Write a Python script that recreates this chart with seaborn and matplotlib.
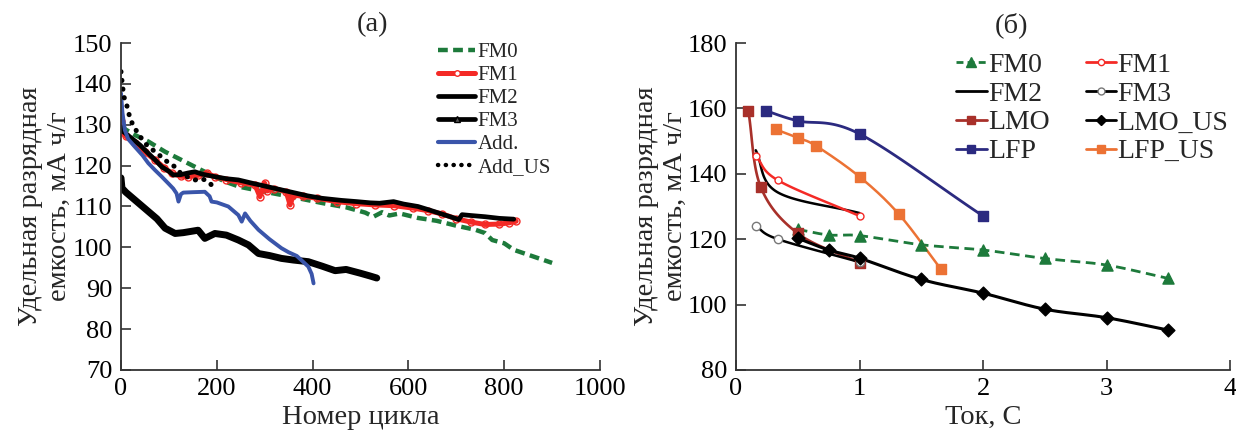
import numpy as np
import matplotlib
matplotlib.use("Agg")
import matplotlib.pyplot as plt
from matplotlib.lines import Line2D
import seaborn as sns

# ---------------- (a) cycling data ----------------
fm0_cyc = [0, 10, 29, 57, 92, 126, 168, 217, 248, 300, 350, 422, 470, 510, 527, 545, 560, 582, 620, 659,
           700, 740, 760, 775, 800, 820, 850, 880, 900]
fm0_cap = [129.8, 128.8, 127.5, 125.9, 123.4, 121.4, 118.9, 116.1, 114.8, 113.6, 112.5, 110.8, 109.8, 108.5,
           107.5, 108.6, 107.8, 108.3, 107.2, 106.5, 105.3, 104.3, 103.5, 101.8, 101.0, 99.4, 98.2, 97.0, 96.2]

fm1_cyc = [0, 2, 10, 29, 50, 71, 90, 106, 125, 140, 160, 180, 196, 220, 250, 280, 290, 300, 305, 320, 345,
           353, 360, 380, 410, 450, 490, 530, 570, 610, 640, 670, 700, 730, 760, 790, 810, 825]
fm1_cap = [131.0, 128.3, 127.2, 125.5, 123.3, 121.4, 119.5, 118.1, 117.4, 117.3, 117.6, 118.1, 117.3, 116.6,
           115.8, 115.2, 112.4, 115.7, 113.8, 114.4, 113.6, 110.4, 112.8, 112.5, 112.0, 111.2, 110.7, 110.4,
           110.2, 109.6, 109.0, 108.2, 107.0, 106.2, 105.6, 105.7, 106.0, 106.4]

fm2_cyc = [0, 5, 22, 40, 57, 72, 85, 100, 109, 125, 140, 154, 170, 196, 220, 245, 270, 300, 330, 360, 390,
           420, 460, 492, 520, 540, 569, 590, 620, 645, 666, 690, 705, 712, 730, 760, 790, 820]
fm2_cap = [129.5, 128.3, 126.7, 125.0, 123.0, 121.3, 119.7, 118.6, 117.7, 117.8, 118.2, 118.5, 117.9, 117.3,
           116.8, 116.5, 115.8, 115.0, 114.2, 113.4, 112.6, 112.0, 111.5, 111.2, 110.9, 110.8, 111.2, 110.6,
           110.0, 109.1, 108.3, 107.4, 106.8, 108.0, 107.8, 107.5, 107.1, 106.9]

fm3_cyc = [0, 2, 10, 25, 50, 75, 92, 113, 130, 161, 175, 196, 220, 245, 266, 287, 310, 335, 360, 391, 420,
           447, 470, 499, 520, 534]
fm3_cap = [117.0, 114.5, 113.5, 112.0, 109.5, 107.0, 104.7, 103.4, 103.6, 104.2, 102.2, 103.4, 103.0, 101.8,
           100.6, 98.5, 98.0, 97.3, 96.9, 96.5, 95.4, 94.3, 94.6, 93.7, 93.0, 92.5]

add_cyc = [0, 3, 8, 15, 29, 45, 57, 71, 85, 100, 109, 116, 120, 125, 130, 150, 175, 185, 189, 200, 224, 245,
           252, 259, 270, 287, 310, 335, 350, 367, 380, 391, 398, 402]
add_cap = [137.7, 133.0, 128.7, 126.5, 124.6, 122.5, 120.6, 118.9, 117.3, 115.5, 114.4, 113.2, 111.2, 113.0,
           113.4, 113.5, 113.6, 112.5, 111.2, 111.0, 110.0, 107.9, 106.3, 108.3, 106.5, 104.3, 102.0, 99.8,
           98.8, 97.9, 96.5, 95.3, 93.5, 91.2]

addus_cyc = [0, 3, 6, 12, 16, 22, 29, 40, 54, 71, 88, 100, 113, 127, 140, 155, 170, 185, 195]
addus_cap = [143.0, 139.7, 136.9, 134.8, 132.8, 130.7, 129.1, 127.1, 125.0, 123.4, 121.8, 120.6, 119.7, 117.8,
             117.2, 116.5, 116.8, 115.8, 114.4]

# ---------------- (б) rate capability ----------------
rate_fm0 = [0.5, 0.75, 1.0, 1.5, 2.0, 2.5, 3.0, 3.5]
cap_fm0 = [123.0, 121.3, 121.1, 118.3, 116.7, 114.1, 112.1, 108.0]
rate_fm1 = [0.16, 0.34, 1.0]
cap_fm1 = [145.5, 138.0, 127.1]
rate_fm2 = [0.16, 0.33, 1.0]
cap_fm2 = [147.2, 134.5, 128.0]
rate_fm3 = [0.16, 0.34, 1.0]
cap_fm3 = [124.0, 120.0, 113.0]
rate_lmo = [0.1, 0.2, 0.5, 1.0]
cap_lmo = [159.2, 136.0, 121.8, 112.8]
rate_lmo_us = [0.5, 0.75, 1.0, 1.5, 2.0, 2.5, 3.0, 3.5]
cap_lmo_us = [120.3, 116.7, 114.2, 107.7, 103.5, 98.6, 96.0, 92.2]
rate_lfp = [0.24, 0.5, 1.0, 2.0]
cap_lfp = [159.3, 156.2, 152.2, 127.1]
rate_lfp_us = [0.32, 0.5, 0.65, 1.0, 1.32, 1.66]
cap_lfp_us = [153.6, 151.0, 148.5, 139.1, 127.6, 110.8]

GREEN = "#1d7a3b"
RED = "#f42a26"
BLUE = "#3a55aa"
LMO_C = "#a8302a"
LFP_C = "#2b2a80"
LFPUS_C = "#ec7234"

sns.set_theme(style="ticks")
plt.rcParams["font.family"] = ["Liberation Serif", "DejaVu Serif"]

fig = plt.figure(figsize=(12.36, 4.30), dpi=100)
axa = fig.add_axes([121 / 1236, 60 / 430, 479 / 1236, 327 / 430])
axb = fig.add_axes([736 / 1236, 60 / 430, 494 / 1236, 327 / 430])

TICK_FS = 19
LABEL_FS = 20.5


def style_axes(ax):
    ax.tick_params(direction="in", length=7, width=1.2, colors="#333333",
                   labelsize=TICK_FS, labelcolor="black", pad=6)
    for s in ("top", "right"):
        ax.spines[s].set_visible(False)
    for s in ("left", "bottom"):
        ax.spines[s].set_linewidth(1.3)
        ax.spines[s].set_color("#333333")


def smooth_curve(xs, ys, xspan, yspan, w, h, n=40):
    """Catmull-Rom spline through the points, evaluated in screen-proportional units."""
    px = np.asarray(xs, float) / xspan * w
    py = np.asarray(ys, float) / yspan * h
    P = np.column_stack([px, py])
    P = np.vstack([2 * P[0] - P[1], P, 2 * P[-1] - P[-2]])
    out = []
    t = np.linspace(0, 1, n)[:, None]
    for i in range(1, len(P) - 2):
        p0, p1, p2, p3 = P[i - 1], P[i], P[i + 1], P[i + 2]
        seg = 0.5 * ((2 * p1) + (-p0 + p2) * t + (2 * p0 - 5 * p1 + 4 * p2 - p3) * t ** 2
                     + (-p0 + 3 * p1 - 3 * p2 + p3) * t ** 3)
        out.append(seg if i == 1 else seg[1:])
    S = np.vstack(out)
    return S[:, 0] * xspan / w, S[:, 1] * yspan / h


# ---------------- panel (a) ----------------
ax = axa
sns.lineplot(x=fm3_cyc, y=fm3_cap, ax=ax, color="black", lw=5.0, estimator=None, sort=False)
sns.lineplot(x=fm0_cyc, y=fm0_cap, ax=ax, color=GREEN, lw=3.2, linestyle=(0, (2.2, 1.2)),
             estimator=None, sort=False)
sns.lineplot(x=fm1_cyc, y=fm1_cap, ax=ax, color=RED, lw=3.6, marker="o", markersize=5,
             markerfacecolor="none", markeredgecolor=RED, markeredgewidth=1.0, estimator=None, sort=False)
sns.lineplot(x=fm2_cyc, y=fm2_cap, ax=ax, color="black", lw=3.4, estimator=None, sort=False)
sns.lineplot(x=add_cyc, y=add_cap, ax=ax, color=BLUE, lw=2.8, estimator=None, sort=False)
sns.lineplot(x=addus_cyc, y=addus_cap, ax=ax, color="black", lw=3.6,
             linestyle=(0, (0.05, 1.7)), estimator=None, sort=False)
ax.lines[-1].set_dash_capstyle("round")

ax.set_xlim(0, 1000)
ax.set_ylim(70, 150)
ax.set_xticks(range(0, 1001, 200))
ax.set_yticks(range(70, 151, 10))
style_axes(ax)
ax.set_xlabel("Номер цикла", fontsize=LABEL_FS, labelpad=3)
ax.set_ylabel("Удельная разрядная\nемкость, мА ч/г", fontsize=LABEL_FS, linespacing=1.2)
ax.yaxis.set_label_coords(-0.102, 0.5)
ax.text(0.526, 1.055, "(a)", transform=ax.transAxes, ha="center", va="center", fontsize=LABEL_FS)

hand_a = [
    Line2D([], [], color=GREEN, lw=3.2, linestyle=(0, (2.2, 1.2))),
    Line2D([], [], color=RED, lw=3.6, marker="o", markersize=4, markerfacecolor="white",
           markeredgecolor=RED),
    Line2D([], [], color="black", lw=3.4),
    Line2D([], [], color="black", lw=3.4, marker="^", markersize=4, markerfacecolor="#555555"),
    Line2D([], [], color=BLUE, lw=3.0),
    Line2D([], [], color="black", lw=3.2, linestyle=(0, (0.05, 1.7)), dash_capstyle="round"),
]
lab_a = ["FM0", "FM1", "FM2", "FM3", "Add.", "Add_US"]
ax.legend(hand_a, lab_a, loc="upper left", bbox_to_anchor=(0.645, 1.026), frameon=False,
          fontsize=15, handlelength=1.75, handletextpad=0.15, labelspacing=0.16, borderaxespad=0.0)

# ---------------- panel (б) ----------------
ax = axb
XS, YS, W, H = 4.0, 100.0, 494.0, 327.0


def draw_series(rx, cy, color, lw, ls="-", marker=None, ms=6, mfc=None, mec=None, mew=1.0):
    sx, sy = smooth_curve(rx, cy, XS, YS, W, H)
    sns.lineplot(x=sx, y=sy, ax=ax, color=color, lw=lw, linestyle=ls, estimator=None, sort=False)
    if marker is not None:
        sns.scatterplot(x=rx, y=cy, ax=ax, marker=marker, s=ms ** 2,
                        color=mfc if mfc is not None else color,
                        edgecolor=mec if mec is not None else color, linewidth=mew, zorder=3)


draw_series(rate_fm0, cap_fm0, GREEN, 2.0, ls=(0, (3.5, 2.0)), marker="^", ms=8)
draw_series(rate_lmo, cap_lmo, LMO_C, 1.9, marker="s", ms=7)
draw_series(rate_fm3, cap_fm3, "black", 1.8, marker="o", ms=6, mfc="white", mec="#777777", mew=1.0)
draw_series(rate_lmo_us, cap_lmo_us, "black", 2.2, marker="D", ms=6.5)
draw_series(rate_fm2, cap_fm2, "black", 1.8)
draw_series(rate_fm1, cap_fm1, RED, 1.8, marker="o", ms=5, mfc="white", mec=RED, mew=1.0)
draw_series(rate_lfp_us, cap_lfp_us, LFPUS_C, 1.8, marker="s", ms=6.5)
draw_series(rate_lfp, cap_lfp, LFP_C, 2.0, marker="s", ms=7)

ax.set_xlim(0, 4)
ax.set_ylim(80, 180)
ax.set_xticks(range(0, 5))
ax.set_yticks(range(80, 181, 20))
style_axes(ax)
ax.set_xlabel("Ток, С", fontsize=LABEL_FS, labelpad=3)
ax.set_ylabel("Удельная разрядная\nемкость, мА ч/г", fontsize=LABEL_FS, linespacing=1.2)
ax.yaxis.set_label_coords(-0.097, 0.5)
ax.text(0.557, 1.055, "(б)", transform=ax.transAxes, ha="center", va="center", fontsize=LABEL_FS)


def h(color, lw, marker=None, ms=6, mfc=None, mec=None, ls="-"):
    return Line2D([], [], color=color, lw=lw, linestyle=ls, marker=marker, markersize=ms,
                  markerfacecolor=mfc if mfc else color, markeredgecolor=mec if mec else color)


hand_b = [
    h(GREEN, 2.0, "^", 7, ls=(0, (2.5, 1.5))),
    h("black", 2.0),
    h(LMO_C, 2.0, "s", 6),
    h(LFP_C, 2.0, "s", 6),
    h(RED, 2.0, "o", 4.5, mfc="white", mec=RED),
    h("black", 2.0, "o", 5, mfc="white", mec="#777777"),
    h("black", 2.0, "D", 5.5),
    h(LFPUS_C, 2.0, "s", 6),
]
lab_b = ["FM0", "FM2", "LMO", "LFP", "FM1", "FM3", "LMO_US", "LFP_US"]
ax.legend(hand_b, lab_b, loc="upper left", bbox_to_anchor=(0.423, 1.005), ncol=2, frameon=False,
          fontsize=20, handlelength=1.1, handletextpad=0.05, labelspacing=0.12, columnspacing=1.3,
          borderaxespad=0.0)

fig.savefig("out.png", dpi=100)
